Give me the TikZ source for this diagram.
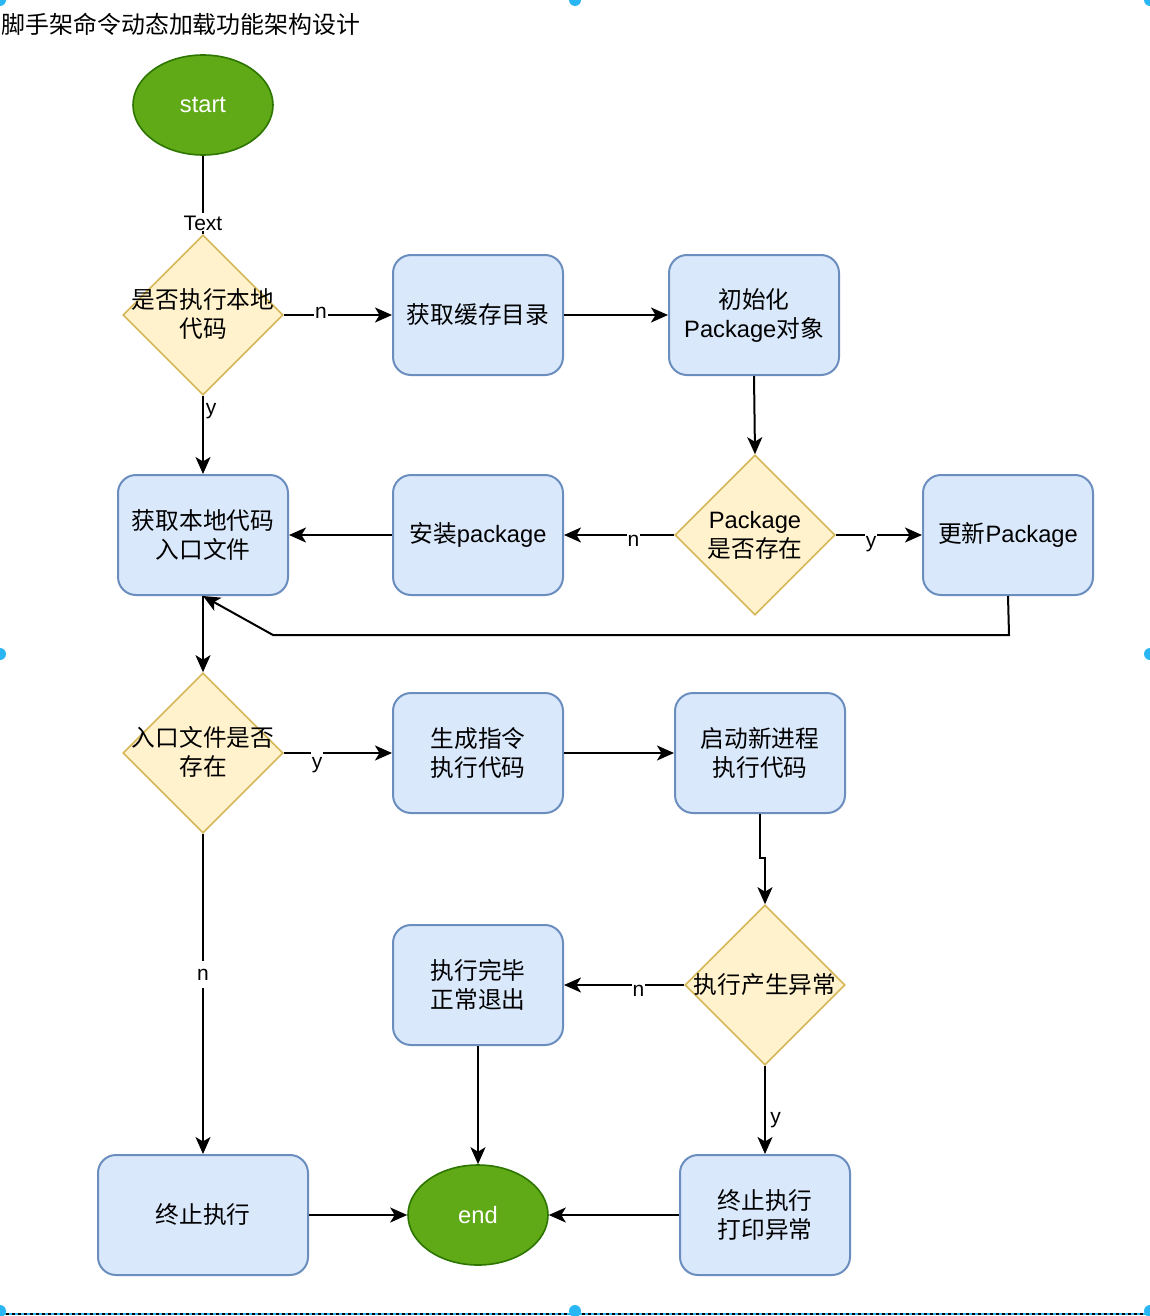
\documentclass[tikz,border=0pt]{standalone}
\usepackage{fontspec}
\setmainfont{Liberation Sans}
\newfontfamily\cjk{Noto Sans CJK SC}
\usetikzlibrary{shapes.geometric,arrows.meta}
\definecolor{boxfill}{HTML}{DAE8FC}
\definecolor{boxdraw}{HTML}{6C8EBF}
\definecolor{diafill}{HTML}{FFF2CC}
\definecolor{diadraw}{HTML}{D6B656}
\definecolor{grnfill}{HTML}{60A917}
\definecolor{grndraw}{HTML}{2D7600}
\definecolor{handle}{HTML}{29B6F2}
\begin{document}
\begin{tikzpicture}[x=1pt,y=-1pt,
  nfont/.style={font=\fontsize{23.7}{29}\selectfont},
  cjkf/.style={font=\cjk\fontsize{23.7}{29}\selectfont},
  box/.style={draw=boxdraw, fill=boxfill, line width=2pt, rounded corners=18pt, minimum width=170pt, minimum height=120pt, align=center, inner sep=0pt, nfont},
  dia/.style={diamond, draw=diadraw, fill=diafill, line width=1.6pt, minimum width=160pt, minimum height=160pt, inner sep=0pt},
  dtext/.style={align=center, inner sep=0pt, nfont},
  term/.style={ellipse, draw=grndraw, fill=grnfill, line width=1.6pt, minimum width=140pt, minimum height=100pt, inner sep=0pt, text=white, nfont},
  conn/.style={line width=2pt, -{Stealth[length=17pt,width=15pt,inset=4.5pt]}},
  plainline/.style={line width=2pt},
  elab/.style={fill=white, inner xsep=1pt, inner ysep=3pt, text height=15.75pt, text depth=5.25pt, anchor=base, font=\fontsize{21}{25}\selectfont}
]
\fill[white] (0,0) rectangle (1150,1316);
\useasboundingbox (0,0) rectangle (1150,1316);

% title
\node[anchor=west, inner sep=0pt, font=\cjk\fontsize{23.9}{28}\selectfont] (title) at (1.5,24) {脚手架命令动态加载功能架构设计};

% nodes
\node[term] (start) at (203,105) {start};
\node[dia] (D1) at (203,315) {};
\node[dtext,cjkf] (D1t) at (203,314) {是否执行本地\\代码};
\node[box,cjkf] (B1) at (478,315) {获取缓存目录};
\node[box] (B2) at (754,315) {{\cjk 初始化}\\Package{\cjk 对象}};
\node[dia] (D2) at (755,535) {};
\node[dtext] (D2t) at (755,535) {Package\\{\cjk 是否存在}};
\node[box] (B3) at (1008,535) {{\cjk 更新}Package};
\node[box] (B4) at (478,535) {{\cjk 安装}package};
\node[box,cjkf] (B5) at (203,535) {获取本地代码\\入口文件};
\node[dia] (D3) at (203,753) {};
\node[dtext,cjkf] (D3t) at (203,752) {入口文件是否\\存在};
\node[box,cjkf] (B6) at (478,753) {生成指令\\执行代码};
\node[box,cjkf] (B7) at (760,753) {启动新进程\\执行代码};
\node[dia] (D4) at (765,985) {};
\node[dtext,cjkf] (D4t) at (765,985) {执行产生异常};
\node[box,cjkf] (B8) at (478,985) {执行完毕\\正常退出};
\node[box,cjkf,minimum width=210pt] (B9) at (203,1215) {终止执行};
\node[term] (end) at (478,1215) {end};
\node[box,cjkf] (B10) at (765,1215) {终止执行\\打印异常};

% connectors
\draw[plainline] (start) -- (D1);
\draw[conn] (D1) -- (B1);
\draw[conn] (D1) -- (B5);
\draw[conn] (B1) -- (B2);
\draw[conn] (B2.south) -- (D2.north);
\draw[conn] (D2) -- (B4);
\draw[conn] (D2) -- (B3);
\draw[conn] (B4) -- (B5);
\coordinate (c1) at (1009,635);
\coordinate (c2) at (273,635);
\draw[conn] (B3.south) -- (c1) -- (c2) -- (B5.south);
\draw[conn] (B5) -- (D3);
\draw[conn] (D3) -- (B6);
\draw[conn] (B6) -- (B7);
\coordinate (c3) at (760,858);
\coordinate (c4) at (765,858);
\draw[conn] (B7.south) -- (c3) -- (c4) -- (D4.north);
\draw[conn] (D4) -- (B8);
\draw[conn] (D4) -- (B10);
\draw[conn] (D3) -- (B9);
\draw[conn] (B8) -- (end);
\draw[conn] (B9) -- (end);
\draw[conn] (B10) -- (end);

% connector labels
\node[elab, text depth=0pt, inner ysep=1pt] (lText) at (203,230) {Text};
\node[elab] (ln1) at (321,318) {n};
\node[elab] (ly1) at (211,414) {y};
\node[elab] (ln2) at (633.5,546) {n};
\node[elab] (ly2) at (871,547) {y};
\node[elab] (ly3) at (317,768) {y};
\node[elab] (ln3) at (203,980) {n};
\node[elab] (ln4) at (638.5,996) {n};
\node[elab] (ly4) at (775.5,1123) {y};

% selection frame remnants
\draw[handle, line width=2pt] (0,1314) -- (1150,1314);
\draw[black, line width=1.2pt, dash pattern=on 3pt off 3pt] (0,1314) -- (1150,1314);
\foreach \hx/\hy in {0/0,575/0,1150/0,0/654,1150/654,0/1311,575/1311,1150/1311}
  \fill[handle] (\hx,\hy) circle (6pt);
\end{tikzpicture}
\end{document}
